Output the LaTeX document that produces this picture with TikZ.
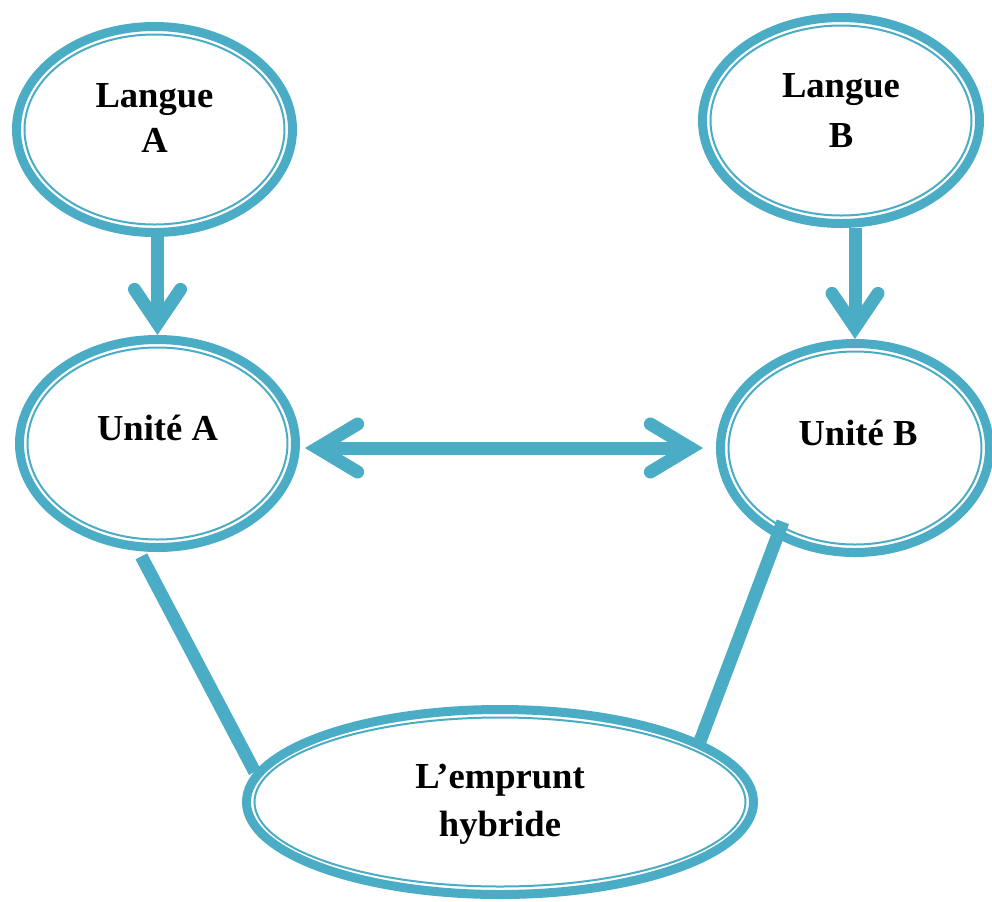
\documentclass[tikz,border=0pt]{standalone}
\usepackage{fontspec}
\setmainfont{Liberation Serif}
\usetikzlibrary{arrows.meta,shapes.geometric,calc}
\definecolor{acc}{HTML}{4BACC6}
\begin{document}
\begin{tikzpicture}[x=0.5pt,y=-0.5pt,
  ell/.style={ellipse, draw=acc, line width=4.5pt, inner sep=0pt, outer sep=2.25pt, fill=white},
  inl/.style={draw=acc, line width=1pt},
  txt/.style={font=\bfseries\fontsize{18.3pt}{#1}\selectfont, align=center, inner sep=0pt, text=black},
  conn/.style={draw=acc, line width=6.5pt},
  vbarb/.style={-{Straight Barb[length=17pt,width=23pt,line cap=round,line join=miter]}},
  hbarb/.style={{Straight Barb[length=20pt,width=24pt,line cap=round,line join=miter]}-{Straight Barb[length=20pt,width=24pt,line cap=round,line join=miter]}}
]
\useasboundingbox (0,0) rectangle (992,901);

% ellipses
\node[ell, minimum width=138pt, minimum height=103pt] (la) at (154.5,129.5) {};
\draw[inl] (la.center) ellipse [x radius=65pt, y radius=47.5pt];
\node[ell, minimum width=138.5pt, minimum height=103pt] (lb) at (841,120.5) {};
\draw[inl] (lb.center) ellipse [x radius=65.25pt, y radius=47.5pt];
\node[ell, minimum width=138pt, minimum height=104pt] (ua) at (157.5,443.5) {};
\draw[inl] (ua.center) ellipse [x radius=65pt, y radius=48pt];
\node[ell, minimum width=134.5pt, minimum height=104.5pt] (ub) at (855,448) {};
\draw[inl] (ub.center) ellipse [x radius=63.25pt, y radius=48.25pt];
\node[ell, minimum width=253.5pt, minimum height=92.5pt] (eh) at (500,802) {};
\draw[inl] (eh.center) ellipse [x radius=122.75pt, y radius=42.25pt];

% texts
\node[txt=22.5pt] (lat) at (154.5,118) {Langue\\A};
\node[txt=25pt] (lbt) at (841,110.7) {Langue\\B};
\node[txt=24pt] (uat) at (157.5,428) {Unité A};
\node[txt=24pt] (ubt) at (858,433) {Unité B};
\node[txt=24pt] (eht) at (500,804) {L’emprunt\\hybride};

% connectors
\draw[conn, vbarb] (ua.north |- la.south) -- (ua.north);
\draw[conn, vbarb] (ub.north |- lb.south) -- (ub.north);
\draw[conn, hbarb, shorten <=2.5pt, shorten >=6.5pt] (ua.east |- ub.west) -- (ub.west);
\draw[conn, shorten <=3pt] (ua.260) -- (eh.173);
\draw[conn, shorten <=-8.7pt] (ub.229) -- (eh.17);
\end{tikzpicture}
\end{document}
